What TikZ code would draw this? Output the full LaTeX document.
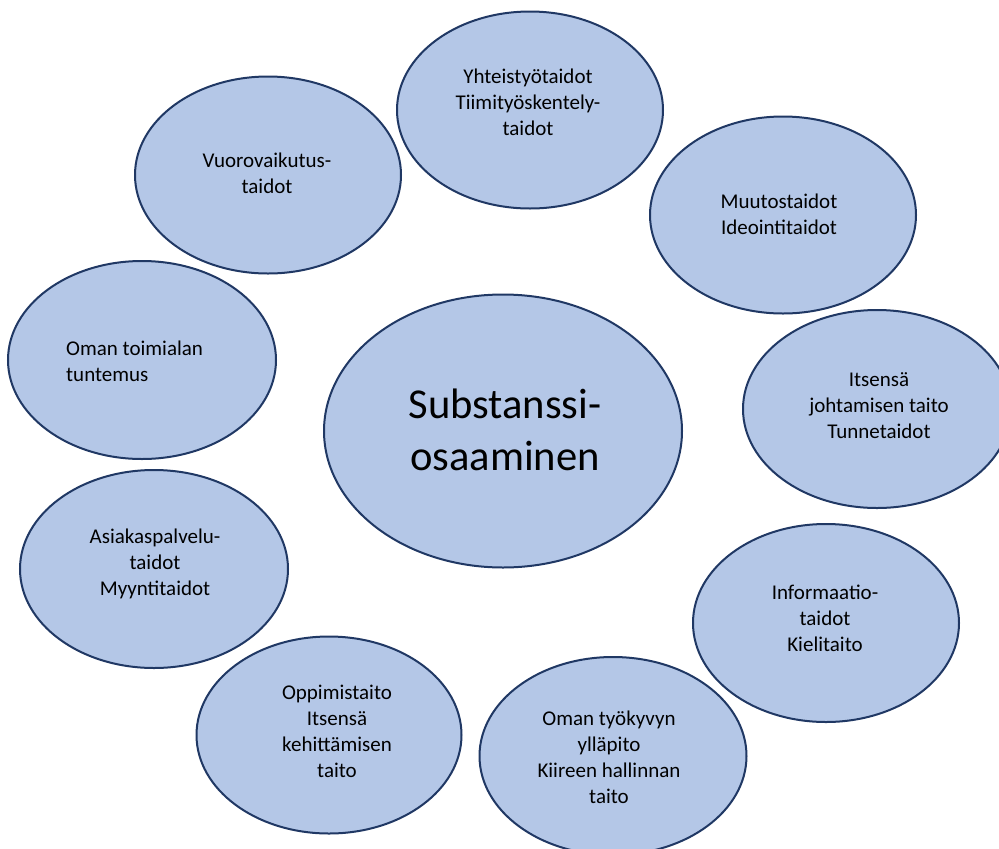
\documentclass[tikz,border=0pt]{standalone}
\usepackage{fontspec}
\setmainfont{Carlito}
\usetikzlibrary{shapes.geometric}
\definecolor{bubblefill}{RGB}{180,199,231}
\definecolor{bubbleline}{RGB}{32,56,100}
\tikzset{
  bubble/.style={ellipse, draw=bubbleline, fill=bubblefill, line width=2pt, inner sep=0pt},
  smalltext/.style={align=center, inner sep=0pt, font=\fontsize{21}{26}\selectfont},
  bigtext/.style={align=center, inner sep=0pt, font=\fontsize{42.6}{52}\selectfont}
}
\begin{document}
\begin{tikzpicture}[x=1pt,y=-1pt]
\clip (0,0) rectangle (999,849);
\fill[white] (0,0) rectangle (999,849);
% bubbles
\node[bubble, minimum width=266pt, minimum height=197pt] (e1) at (530,110) {};
\node[bubble, minimum width=266pt, minimum height=197pt] (e2) at (268,175) {};
\node[bubble, minimum width=266pt, minimum height=197pt] (e3) at (783,215) {};
\node[bubble, minimum width=268pt, minimum height=198pt] (e4) at (142,360) {};
\node[bubble, minimum width=358pt, minimum height=273pt] (e5) at (503,431) {};
\node[bubble, minimum width=268pt, minimum height=198pt] (e6) at (877,409) {};
\node[bubble, minimum width=268pt, minimum height=198pt] (e7) at (154,569) {};
\node[bubble, minimum width=266pt, minimum height=198pt] (e8) at (826,623) {};
\node[bubble, minimum width=265pt, minimum height=197pt] (e9) at (329,735) {};
\node[bubble, minimum width=267pt, minimum height=198pt] (e10) at (613,756) {};
% texts
\node[smalltext] (t1) at (528,102) {Yhteistyötaidot\\Tiimityöskentely-\\taidot};
\node[smalltext] (t2) at (267,173) {Vuorovaikutus-\\taidot};
\node[smalltext] (t3) at (779,214) {Muutostaidot\\Ideointitaidot};
\node[smalltext, align=left, anchor=west] (t4) at (66,361) {Oman toimialan\\tuntemus};
\node[bigtext] (t5) at (505,430) {Substanssi-\\osaaminen};
\node[smalltext] (t6) at (879,406) {Itsensä\\johtamisen taito\\Tunnetaidot};
\node[smalltext] (t7) at (155,564) {Asiakaspalvelu-\\taidot\\Myyntitaidot};
\node[smalltext] (t8) at (825,618) {Informaatio-\\taidot\\Kielitaito};
\node[smalltext] (t9) at (337,731) {Oppimistaito\\Itsensä\\kehittämisen\\taito};
\node[smalltext] (t10) at (609,757) {Oman työkyvyn\\ylläpito\\Kiireen hallinnan\\taito};
\end{tikzpicture}
\end{document}
